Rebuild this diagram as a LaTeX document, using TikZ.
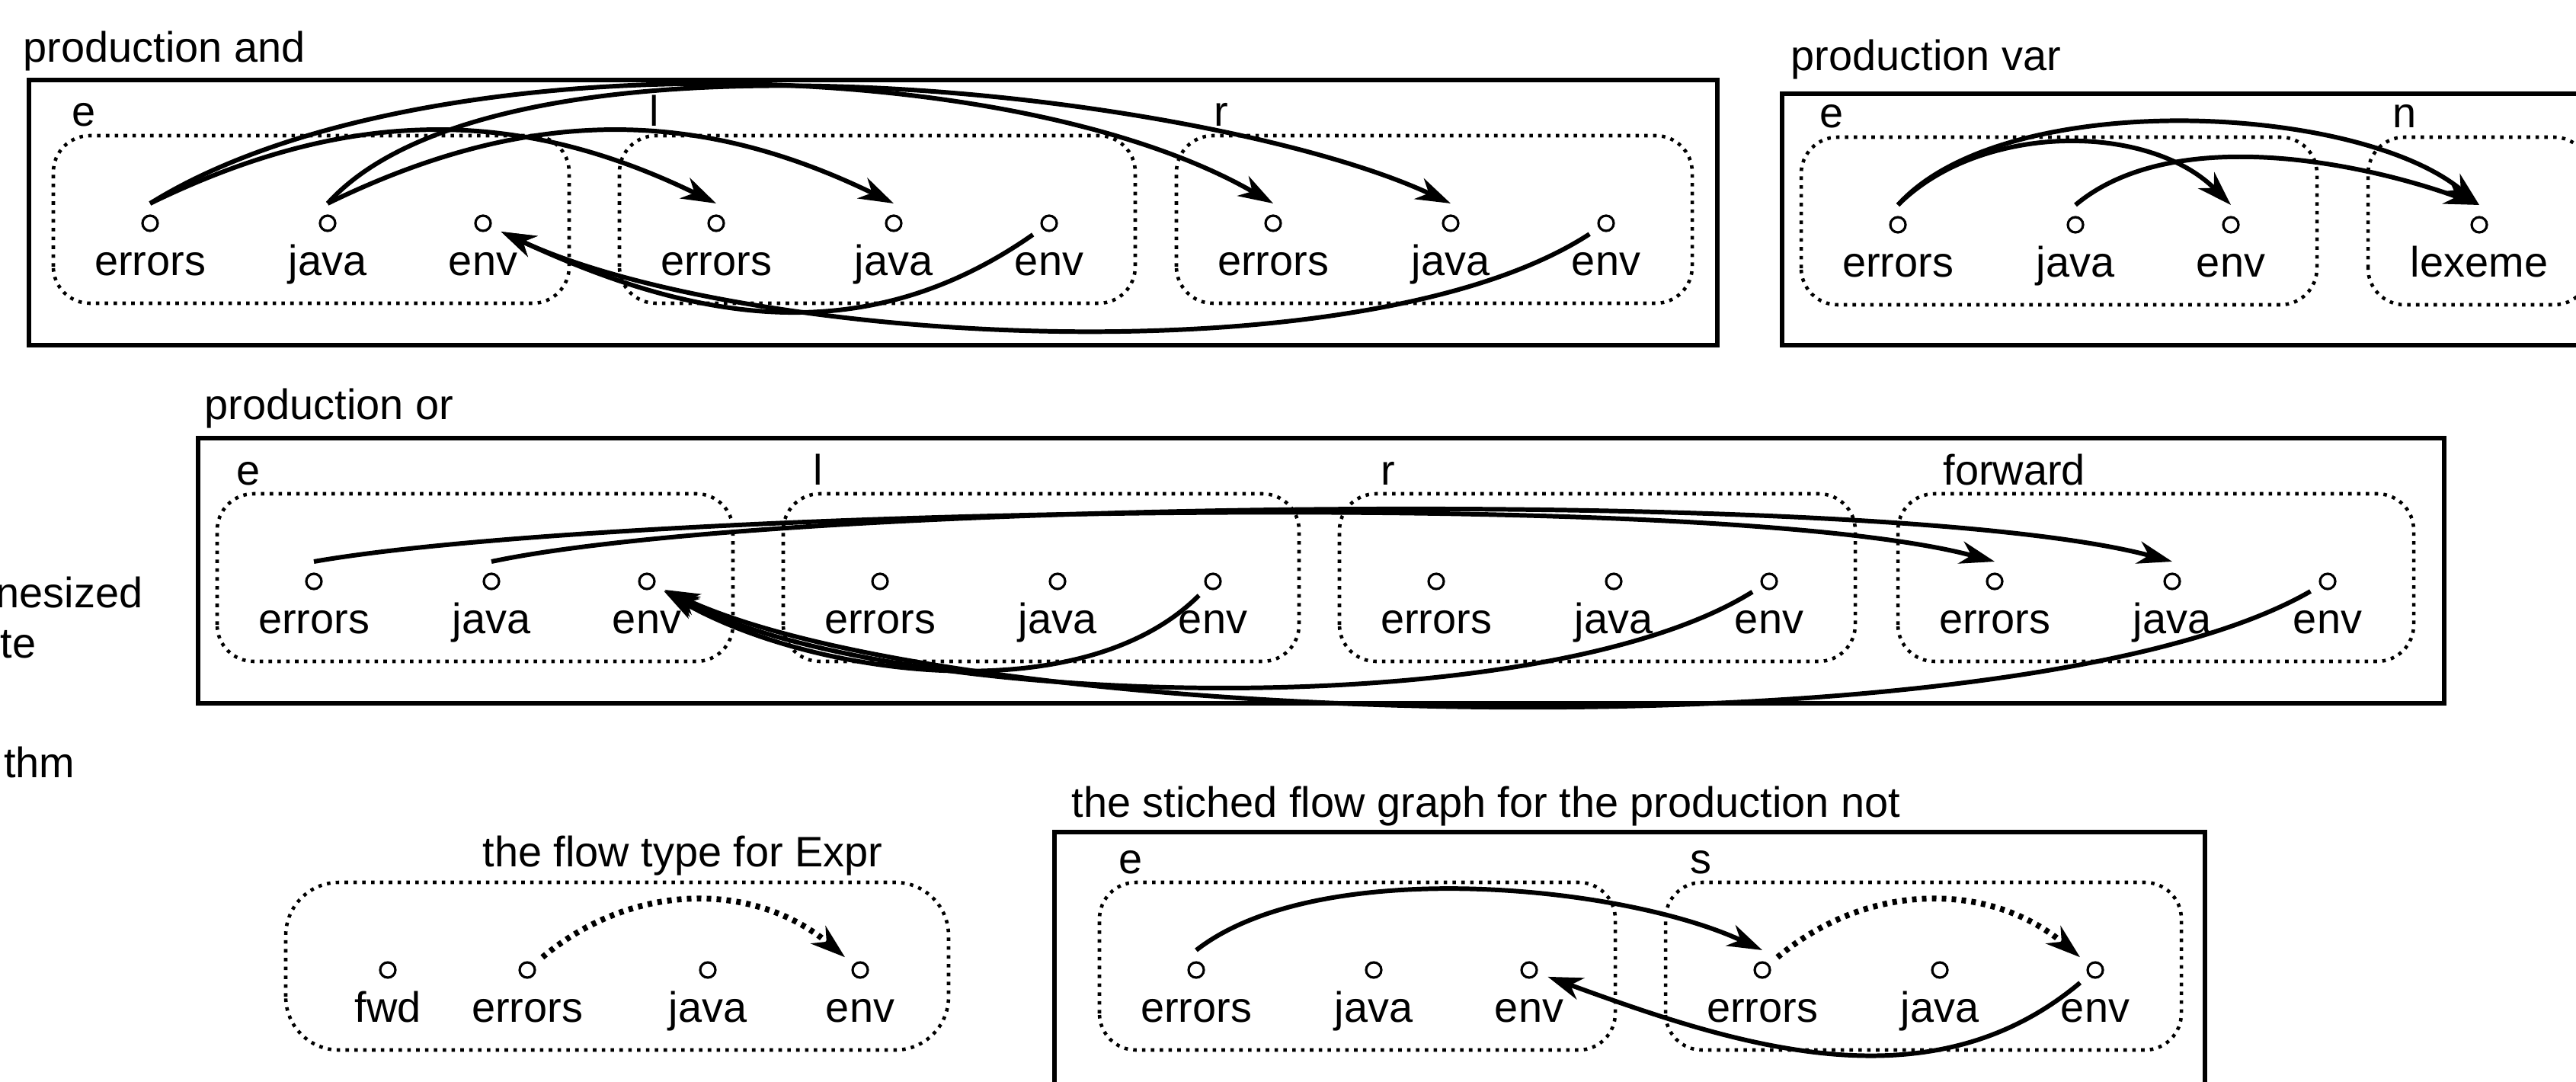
\documentclass[tikz,border=0pt]{standalone}
\usepackage{fontspec}
\setmainfont{Liberation Sans}
\usetikzlibrary{arrows.meta}
\begin{document}
\begin{tikzpicture}[font=\fontsize{15.9}{19}\selectfont,inner sep=0pt,
part/.style={draw,line width=1.5pt},
grp/.style={draw,dotted,line width=1.3pt,rounded corners=0.48cm},
attr/.style={circle,draw,line width=0.9pt,minimum size=0.2cm,outer sep=0.16cm},
flow/.style={line width=1.7pt,-{Stealth[length=13pt,width=8.5pt,inset=4pt]}},
fwdflow/.style={flow,dotted,line width=2.2pt}]
\newcommand\trio[3]{
\draw[grp] (0,0) rectangle (6.77,2.2);
\node[anchor=base west] (#1-tag) at (#3,2.32) {#2};
\foreach \a/\x in {errors/1.27,java/3.6,env/5.64} {
\node[attr] (#1-\a) at (\x,1.05) {};
\node[anchor=base] (#1-\a-txt) at (\x,0.37) {\a};
}
}
\useasboundingbox (0,0) rectangle (33.81,14.19);
\node[anchor=base east] (cut-a) at (1.88,6.22) {nesized};
\node[anchor=base east] (cut-b) at (0.48,5.56) {te};
\node[anchor=base east] (cut-c) at (0.99,3.99) {thm};
% production and
\draw[part] (0.38,9.66) rectangle (22.54,13.14);
\node[anchor=base west] (t-and) at (0.30,13.37) {production and};
\begin{scope}[xshift=0.70cm,yshift=10.21cm]
\trio{ae}{e}{0.24}
\end{scope}
\begin{scope}[xshift=8.13cm,yshift=10.21cm]
\trio{al}{l}{0.39}
\end{scope}
\begin{scope}[xshift=15.44cm,yshift=10.21cm]
\trio{ar}{r}{0.49}
\end{scope}
\draw[flow] (ae-errors.north) to[out=26,in=154] (al-errors.north);
\draw[flow] (ae-java.north) to[out=26,in=154] (al-java.north);
\draw[flow] (ae-errors.north) to[out=32,in=150,looseness=0.7] (ar-errors.north);
\draw[flow] (ae-java.north) to[out=48,in=155,looseness=0.6] (ar-java.north);
\draw[flow] (al-env) to[out=-145,in=-25] (ae-env);
\draw[flow] (ar-env) to[out=-147,in=-25,looseness=0.63] (ae-env);
% production var
\draw[part] (23.39,9.66) rectangle (34.5,12.96);
\node[anchor=base west] (t-var) at (23.50,13.26) {production var};
\begin{scope}[xshift=23.64cm,yshift=10.19cm]
\trio{ve}{e}{0.24}
\end{scope}
\begin{scope}[xshift=31.08cm,yshift=10.19cm]
\draw[grp] (0,0) rectangle (2.92,2.2);
\node[anchor=base west] (vn-tag) at (0.32,2.32) {n};
\node[attr] (vn-lexeme) at (1.46,1.05) {};
\node[anchor=base] (vn-lexeme-txt) at (1.46,0.37) {lexeme};
\end{scope}
\draw[flow] (ve-errors.north) to[out=45,in=135,looseness=0.9] (ve-env.north);
\draw[flow] (ve-errors.north) to[out=48,in=140,looseness=0.7] (vn-lexeme.north);
\draw[flow] (ve-java.north) to[out=40,in=160,looseness=0.8] (vn-lexeme.north);
% production or
\draw[part] (2.60,4.96) rectangle (32.08,8.44);
\node[anchor=base west] (t-or) at (2.68,8.69) {production or};
\begin{scope}[xshift=2.85cm,yshift=5.51cm]
\trio{oe}{e}{0.25}
\end{scope}
\begin{scope}[xshift=10.28cm,yshift=5.51cm]
\trio{ol}{l}{0.39}
\end{scope}
\begin{scope}[xshift=17.58cm,yshift=5.51cm]
\trio{or}{r}{0.54}
\end{scope}
\begin{scope}[xshift=24.91cm,yshift=5.51cm]
\trio{of}{forward}{0.59}
\end{scope}
\draw[flow] (oe-errors.north) to[out=10,in=165,looseness=0.45] (of-errors.north);
\draw[flow] (oe-java.north) to[out=12,in=165,looseness=0.45] (of-java.north);
\draw[flow] (ol-env) to[out=-135,in=-30,looseness=0.8] (oe-env);
\draw[flow] (or-env) to[out=-148,in=-28,looseness=0.6] (oe-env);
\draw[flow] (of-env) to[out=-150,in=-25,looseness=0.52] (oe-env);
% flow type
\node[anchor=base west] (t-expr) at (6.33,2.82) {the flow type for Expr};
\begin{scope}[xshift=3.75cm,yshift=0.41cm]
\draw[grp,rounded corners=0.7cm] (0,0) rectangle (8.7,2.2);
\foreach \a/\x in {fwd/1.34,errors/3.17,java/5.54,env/7.54} {
\node[attr] (x-\a) at (\x,1.05) {};
\node[anchor=base] (x-\a-txt) at (\x,0.37) {\a};
}
\end{scope}
\draw[fwdflow] (x-errors) to[out=40,in=140] (x-env);
% production not
\draw[part] (13.84,-0.5) rectangle (28.94,3.27);
\node[anchor=base west] (t-not) at (14.06,3.47) {the stiched flow graph for the production not};
\begin{scope}[xshift=14.43cm,yshift=0.41cm]
\trio{ne}{e}{0.25}
\end{scope}
\begin{scope}[xshift=21.86cm,yshift=0.41cm]
\trio{ns}{s}{0.32}
\end{scope}
\draw[flow] (ne-errors.north) to[out=38,in=155,looseness=0.7] (ns-errors.north);
\draw[fwdflow] (ns-errors) to[out=40,in=140] (ns-env);
\draw[flow] (ns-env) to[out=-140,in=-20,looseness=0.95] (ne-env);
\end{tikzpicture}
\end{document}
